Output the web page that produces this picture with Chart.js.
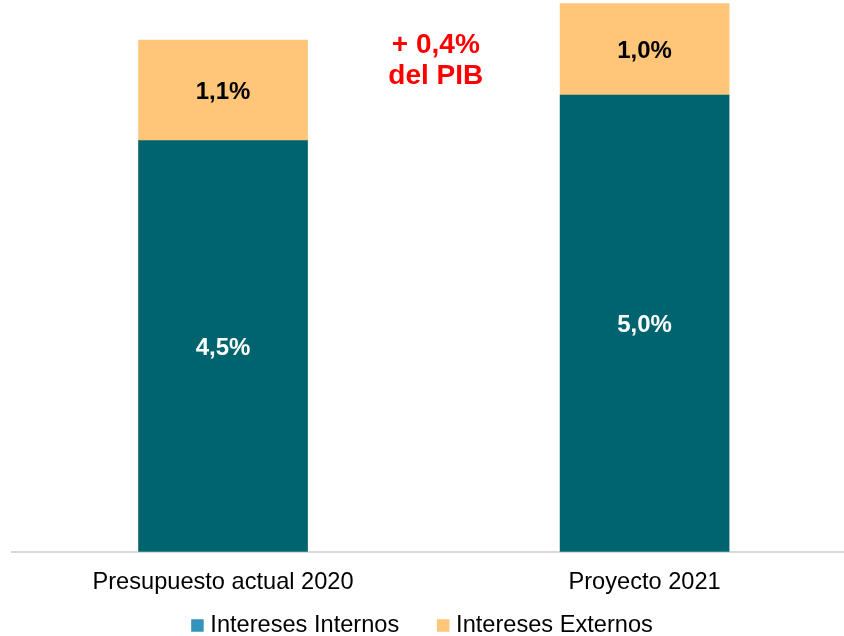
<!DOCTYPE html>
<html><head><meta charset="utf-8">
<script src="https://cdn.jsdelivr.net/npm/chart.js@4"></script>
<style>html,body{margin:0;padding:0;background:#fff;overflow:hidden}#wrap{width:844px;height:636px;position:relative}</style>
</head><body><div id="wrap"><canvas id="c"></canvas></div>
<script>
// ---- data ----
const categories = ['Presupuesto actual 2020', 'Proyecto 2021'];
const internos = [4.5, 5.0];
const externos = [1.1, 1.0];
const seriesNames = ['Intereses Internos', 'Intereses Externos'];
const annotationLines = ['+ 0,4%', 'del PIB'];

// ---- style ----
const FONT = "'Liberation Sans', Arial, sans-serif";
const TEAL = '#00646E', ORANGE = '#FFC578', LEGEND_BLUE = '#3393BB';
const toPoints = vals => vals.map((v, i) => ({x: i, y: v}));
const fmt = v => v.toFixed(1).replace('.', ',') + '%';

const valueLabels = {
  id: 'valueLabels',
  afterDatasetsDraw(chart) {
    const ctx = chart.ctx;
    chart.data.datasets.forEach((ds, di) => {
      const meta = chart.getDatasetMeta(di);
      meta.data.forEach((el, i) => {
        ctx.save();
        ctx.font = 'bold 24px ' + FONT;
        ctx.fillStyle = ds.labelColor;
        ctx.textAlign = 'center';
        ctx.textBaseline = 'middle';
        ctx.fillText(fmt(ds.data[i].y), el.x, (el.y + el.base) / 2 + 2);
        ctx.restore();
      });
    });
  }
};

const annotation = {
  id: 'annotation',
  afterDraw(chart) {
    const ctx = chart.ctx, xs = chart.scales.x, area = chart.chartArea;
    const x = (xs.getPixelForValue(0) + xs.getPixelForValue(1)) / 2 + 2;
    ctx.save();
    ctx.font = 'bold 28px ' + FONT;
    ctx.fillStyle = '#FF0000';
    ctx.textAlign = 'center';
    ctx.textBaseline = 'middle';
    annotationLines.forEach((t, i) => ctx.fillText(t, x, area.top + 45 + i * 31));
    ctx.restore();
  }
};

const customLegend = {
  id: 'customLegend',
  afterDraw(chart) {
    const ctx = chart.ctx;
    const box = 12.5, gapText = 6.7, gapItem = 37.7, yc = 625.5;
    ctx.save();
    ctx.font = '23.6px ' + FONT;
    const items = chart.data.datasets.map(ds => ({text: ds.label, color: ds.legendColor, w: ctx.measureText(ds.label).width}));
    let total = items.reduce((s, it) => s + box + gapText + it.w, 0) + gapItem * (items.length - 1);
    let x = (chart.width - total) / 2;
    ctx.textBaseline = 'middle';
    ctx.textAlign = 'left';
    items.forEach(it => {
      ctx.fillStyle = it.color;
      ctx.fillRect(x, yc - box / 2, box, box);
      ctx.fillStyle = '#000';
      ctx.fillText(it.text, x + box + gapText, yc);
      x += box + gapText + it.w + gapItem;
    });
    ctx.restore();
  }
};

new Chart(document.getElementById('c'), {
  type: 'bar',
  data: {
    datasets: [
      {label: seriesNames[0], data: toPoints(internos), backgroundColor: TEAL, legendColor: LEGEND_BLUE, labelColor: '#FFFFFF'},
      {label: seriesNames[1], data: toPoints(externos), backgroundColor: ORANGE, legendColor: ORANGE, labelColor: '#000000'}
    ]
  },
  options: {
    responsive: true,
    maintainAspectRatio: false,
    animation: false,
    devicePixelRatio: 1,
    barThickness: 169,
    borderWidth: 0,
    layout: {padding: {left: 12, right: 0, top: 0, bottom: 22}},
    plugins: {legend: {display: false}, tooltip: {enabled: false}},
    scales: {
      x: {
        type: 'linear',
        stacked: true,
        offset: false,
        bounds: 'data',
        grace: 0,
        min: -0.5006,
        max: 1.473,
        afterBuildTicks: s => { s.ticks = categories.map((_, i) => ({value: i})); },
        grid: {display: false, drawTicks: false},
        border: {display: true, color: '#D9D9D9', width: 2},
        ticks: {
          padding: 17,
          color: '#000',
          font: {family: FONT, size: 23.6},
          autoSkip: false,
          maxRotation: 0,
          callback: v => categories[v]
        }
      },
      y: {
        stacked: true,
        display: false,
        min: 0,
        max: 6.04
      }
    }
  },
  plugins: [valueLabels, annotation, customLegend]
});
</script>
</body></html>
